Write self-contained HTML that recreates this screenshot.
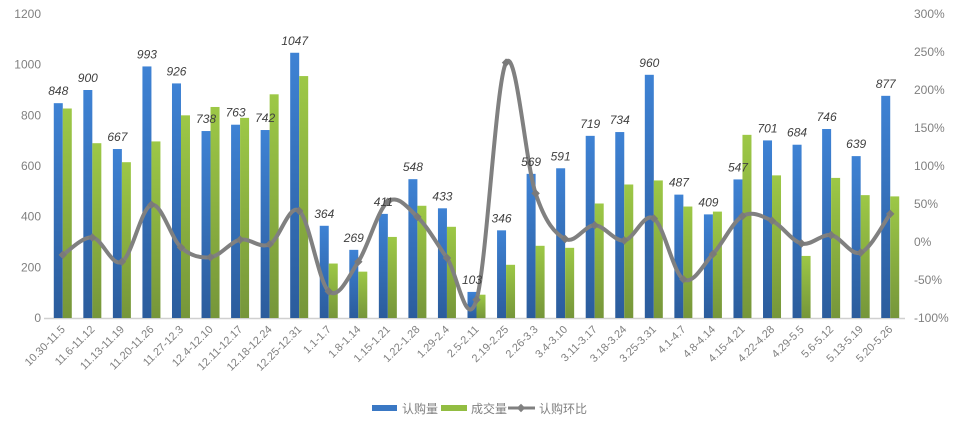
<!DOCTYPE html>
<html><head><meta charset="utf-8"><style>
html,body{margin:0;padding:0;background:#fff;}
svg{display:block;font-family:"Liberation Sans","Noto Sans CJK SC",sans-serif;}
</style></head><body>
<svg id="chart" width="960" height="428" viewBox="0 0 960 428" xmlns="http://www.w3.org/2000/svg">
<defs>
<linearGradient id="gb" x1="0" y1="0" x2="0" y2="1"><stop offset="0" stop-color="#3e82d4"/><stop offset="1" stop-color="#2b5c9c"/></linearGradient>
<linearGradient id="gg" x1="0" y1="0" x2="0" y2="1"><stop offset="0" stop-color="#9dc846"/><stop offset="1" stop-color="#76963a"/></linearGradient>
</defs>
<g id="grid"></g><g id="bars"></g><g id="line"></g><g id="labels"></g>
<g>
<rect x="372" y="405" width="25" height="6" fill="#3a78c4"/>
<text x="402" y="413" font-size="12" fill="#808080">认购量</text>
<rect x="441" y="405" width="26" height="6" fill="#92bd42"/>
<text x="471" y="413" font-size="12" fill="#808080">成交量</text>
<line x1="508" y1="408" x2="535" y2="408" stroke="#808080" stroke-width="3"/>
<rect x="518" y="405" width="6" height="6" transform="rotate(45 521 408)" fill="#808080"/>
<text x="539" y="413" font-size="12" fill="#808080">认购环比</text>
</g>
</svg>
<script>
const categories=["10.30-11.5","11.6-11.12","11.13-11.19","11.20-11.26","11.27-12.3","12.4-12.10","12.11-12.17","12.18-12.24","12.25-12.31","1.1-1.7","1.8-1.14","1.15-1.21","1.22-1.28","1.29-2.4","2.5-2.11","2.19-2.25","2.26-3.3","3.4-3.10","3.11-3.17","3.18-3.24","3.25-3.31","4.1-4.7","4.8-4.14","4.15-4.21","4.22-4.28","4.29-5.5","5.6-5.12","5.13-5.19","5.20-5.26"];
const subscription=[848,900,667,993,926,738,763,742,1047,364,269,411,548,433,103,346,569,591,719,734,960,487,409,547,701,684,746,639,877];
const deals=[827,690,615,697,800,833,790,883,955,215,183,320,443,360,92,210,285,277,452,527,543,440,420,723,563,245,553,485,480];
const ratio=[-17,6,-26,49,-7,-20,3,-3,41,-65,-26,53,33,-21,-76,236,64,4,22,2,31,-49,-16,34,28,-2,9,-14,37];
const leftTicks=[0,200,400,600,800,1000,1200];
const rightTicks=["-100%","-50%","0%","50%","100%","150%","200%","250%","300%"];
const X0=48,X1=905,Y0=318,YT=14;
const slot=(X1-X0)/categories.length;
const xc=i=>X0+slot*(i+0.5);
const yL=v=>Y0-(v/1200)*(Y0-YT);
const yR=p=>Y0-((p+100)/400)*(Y0-YT);
const NS="http://www.w3.org/2000/svg";
function mk(tag,attrs,parent){const e=document.createElementNS(NS,tag);for(const k in attrs)e.setAttribute(k,attrs[k]);parent.appendChild(e);return e;}
const grid=document.getElementById('grid'),bars=document.getElementById('bars'),line=document.getElementById('line'),labels=document.getElementById('labels');
const ax=mk('line',{x1:X0-4,y1:Y0+0.5,x2:X1,y2:Y0+0.5,stroke:'#d0d0d0','stroke-width':1.5},grid);


leftTicks.forEach(v=>{const t=mk('text',{x:41,y:yL(v)+4,'text-anchor':'end','font-size':12,fill:'#808080'},grid);t.textContent=v;

});
rightTicks.forEach((s,i)=>{const t=mk('text',{x:914,y:yR(-100+50*i)+4,'font-size':12,fill:'#808080'},grid);t.textContent=s;

});
const bw=9;
categories.forEach((c,i)=>{
 const cx=xc(i);
 const b=mk('rect',{x:cx-bw,y:yL(subscription[i]),width:bw,height:Y0-yL(subscription[i]),fill:'url(#gb)'},bars);
 
 
 const g=mk('rect',{x:cx,y:yL(deals[i]),width:bw,height:Y0-yL(deals[i]),fill:'url(#gg)'},bars);
 
 
 const v=mk('text',{x:cx-bw/2,y:yL(subscription[i])-8,'text-anchor':'middle','font-size':12,'font-style':'italic',fill:'#404040'},labels);
 v.textContent=subscription[i];
 
 
 const tl=mk('text',{x:cx+3,y:Y0+12,'text-anchor':'end','font-size':11,fill:'#808080',transform:`rotate(-45 ${cx+3} ${Y0+12})`},labels);
 tl.textContent=c;
 
 
});
const pts=ratio.map((p,i)=>[xc(i),yR(p)]);
let d=`M${pts[0][0]},${pts[0][1]}`;
for(let i=0;i<pts.length-1;i++){const p0=pts[i-1]||pts[i],p1=pts[i],p2=pts[i+1],p3=pts[i+2]||p2;const k=0.17;
 d+=` C${p1[0]+(p2[0]-p0[0])*k},${p1[1]+(p2[1]-p0[1])*k} ${p2[0]-(p3[0]-p1[0])*k},${p2[1]-(p3[1]-p1[1])*k} ${p2[0]},${p2[1]}`;}
const path=mk('path',{d:d,fill:'none',stroke:'#808080','stroke-width':4,'stroke-linejoin':'round'},line);


pts.forEach(p=>{const m=mk('rect',{x:p[0]-3,y:p[1]-3,width:6,height:6,fill:'#7a7a7a',transform:`rotate(45 ${p[0]} ${p[1]})`},line);

});
</script>
</body></html>
